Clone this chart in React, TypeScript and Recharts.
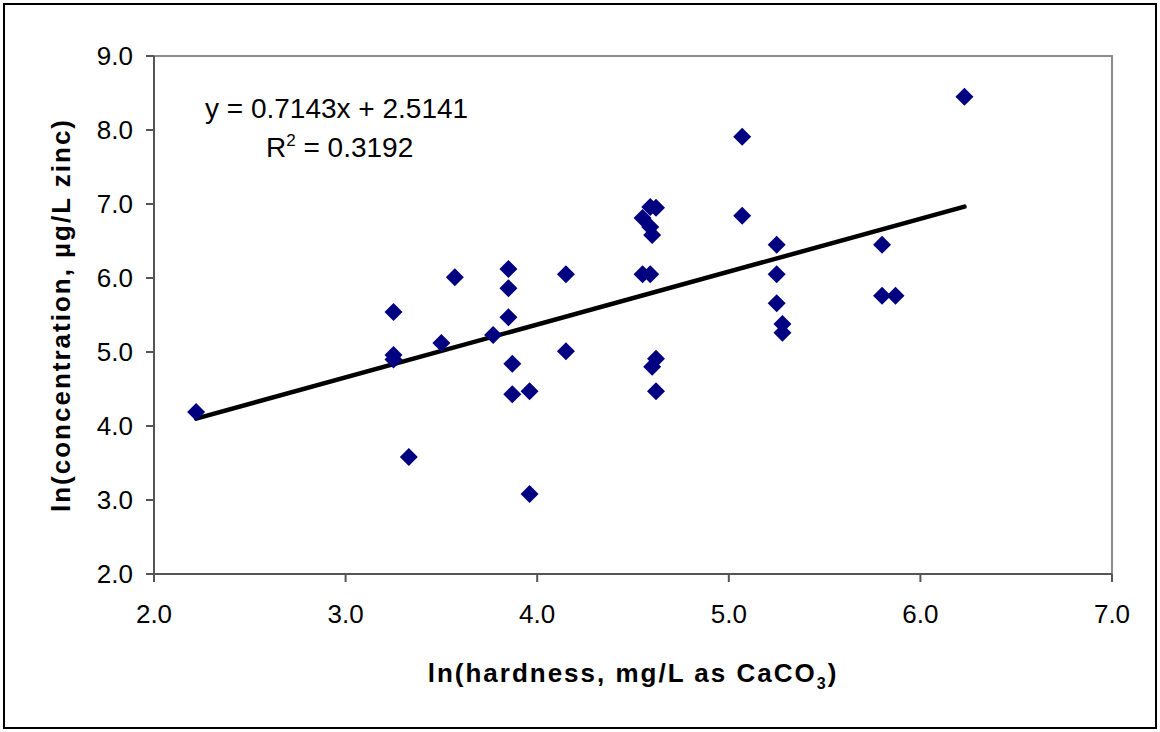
import { ScatterChart, Scatter, XAxis, YAxis, ReferenceLine, ReferenceArea, Label } from "recharts";

const hardness = [
  2.22, 3.25, 3.25, 3.25, 3.33, 3.5, 3.57, 3.77, 3.85, 3.85, 3.85, 3.87, 3.87, 3.96, 3.96, 4.15, 4.15,
  4.55, 4.59, 4.62, 4.59, 4.6, 4.55, 4.59, 4.62, 4.6, 4.62, 5.07, 5.07, 5.25, 5.25, 5.25, 5.28, 5.28,
  5.8, 5.8, 5.87, 6.23,
];
const concentration = [
  4.19, 5.54, 4.96, 4.9, 3.58, 5.12, 6.01, 5.23, 6.12, 5.86, 5.47, 4.84, 4.43, 4.47, 3.08, 6.05, 5.01,
  6.81, 6.96, 6.95, 6.69, 6.58, 6.05, 6.05, 4.91, 4.8, 4.47, 7.91, 6.84, 6.45, 6.05, 5.66, 5.38, 5.26,
  6.45, 5.76, 5.76, 8.45,
];
const xTicks = [2, 3, 4, 5, 6, 7];
const yTicks = [2, 3, 4, 5, 6, 7, 8, 9];
const slope = 0.7143;
const intercept = 2.5141;
const rSquared = "0.3192";

const points = hardness.map((x, i) => ({ x, y: concentration[i] }));
const xMin = Math.min(...hardness);
const xMax = Math.max(...hardness);
const trend = [
  { x: xMin, y: slope * xMin + intercept },
  { x: xMax, y: slope * xMax + intercept },
];

const font = "'Liberation Sans', Arial, sans-serif";

const Diamond = (props: any) => {
  const { cx, cy } = props;
  const r = 9;
  return (
    <polygon
      points={`${cx},${cy - r} ${cx + r},${cy} ${cx},${cy + r} ${cx - r},${cy}`}
      fill="#000080"
    />
  );
};

const EquationLabel = (props: any) => {
  const { x, y } = props.viewBox;
  return (
    <g fontFamily={font} fontSize={28} fill="#000">
      <text x={x + 51} y={y + 62}>
        {`y = ${slope}x + ${intercept}`}
      </text>
      <text x={x + 112} y={y + 101}>
        R<tspan dy={-11} fontSize={17}>2</tspan>
        <tspan dy={11}>{` = ${rSquared}`}</tspan>
      </text>
    </g>
  );
};

const XTitle = (props: any) => {
  const { x, y, width } = props.viewBox;
  return (
    <text
      x={x + width / 2}
      y={y + 108}
      textAnchor="middle"
      fontFamily={font}
      fontWeight="bold"
      fontSize={26}
      letterSpacing={2}
      fill="#000"
    >
      ln(hardness, mg/L as CaCO<tspan dy={7} fontSize={16}>3</tspan>
      <tspan dy={-7}>)</tspan>
    </text>
  );
};

const YTitle = (props: any) => {
  const { x, y, height } = props.viewBox;
  const cx = x - 23;
  const cy = y + height / 2;
  return (
    <text
      x={cx}
      y={cy}
      transform={`rotate(-90 ${cx} ${cy})`}
      textAnchor="middle"
      dominantBaseline="central"
      fontFamily={font}
      fontWeight="bold"
      fontSize={26}
      letterSpacing={2}
      fill="#000"
    >
      ln(concentration, µg/L zinc)
    </text>
  );
};

export default function App() {
  const tickStyle = { fontFamily: font, fontSize: 26, fill: "#000" };
  return (
    <div style={{ position: "absolute", left: 0, top: 0, width: 1160, height: 732, background: "#fff" }}>
      <div
        style={{
          position: "absolute",
          left: 3,
          top: 3,
          width: 1154,
          height: 726,
          boxSizing: "border-box",
          border: "2px solid #000",
        }}
      />
      <ScatterChart width={1160} height={732} margin={{ top: 56, right: 48, bottom: 98, left: 84 }}>
        <ReferenceArea
          x1={2}
          x2={7}
          y1={2}
          y2={9}
          fill="#fff"
          fillOpacity={1}
          stroke="#8c8c8c"
          strokeWidth={2}
          label={<EquationLabel />}
        />
        <XAxis
          type="number"
          dataKey="x"
          domain={[2, 7]}
          ticks={xTicks}
          tickFormatter={(v: number) => v.toFixed(1)}
          tick={tickStyle}
          tickSize={8}
          tickMargin={23}
          height={60}
          stroke="#555"
          strokeWidth={2}
          allowDataOverflow
        >
          <Label content={<XTitle />} />
        </XAxis>
        <YAxis
          type="number"
          dataKey="y"
          domain={[2, 9]}
          ticks={yTicks}
          tickFormatter={(v: number) => v.toFixed(1)}
          tick={tickStyle}
          tickSize={8}
          tickMargin={13}
          width={70}
          stroke="#555"
          strokeWidth={2}
          allowDataOverflow
        >
          <Label content={<YTitle />} />
        </YAxis>
        <Scatter data={points} shape={<Diamond />} isAnimationActive={false} />
        <ReferenceLine
          segment={trend}
          stroke="#000"
          strokeWidth={4.5}
          strokeLinecap="round"
          ifOverflow="visible"
        />
      </ScatterChart>
    </div>
  );
}
